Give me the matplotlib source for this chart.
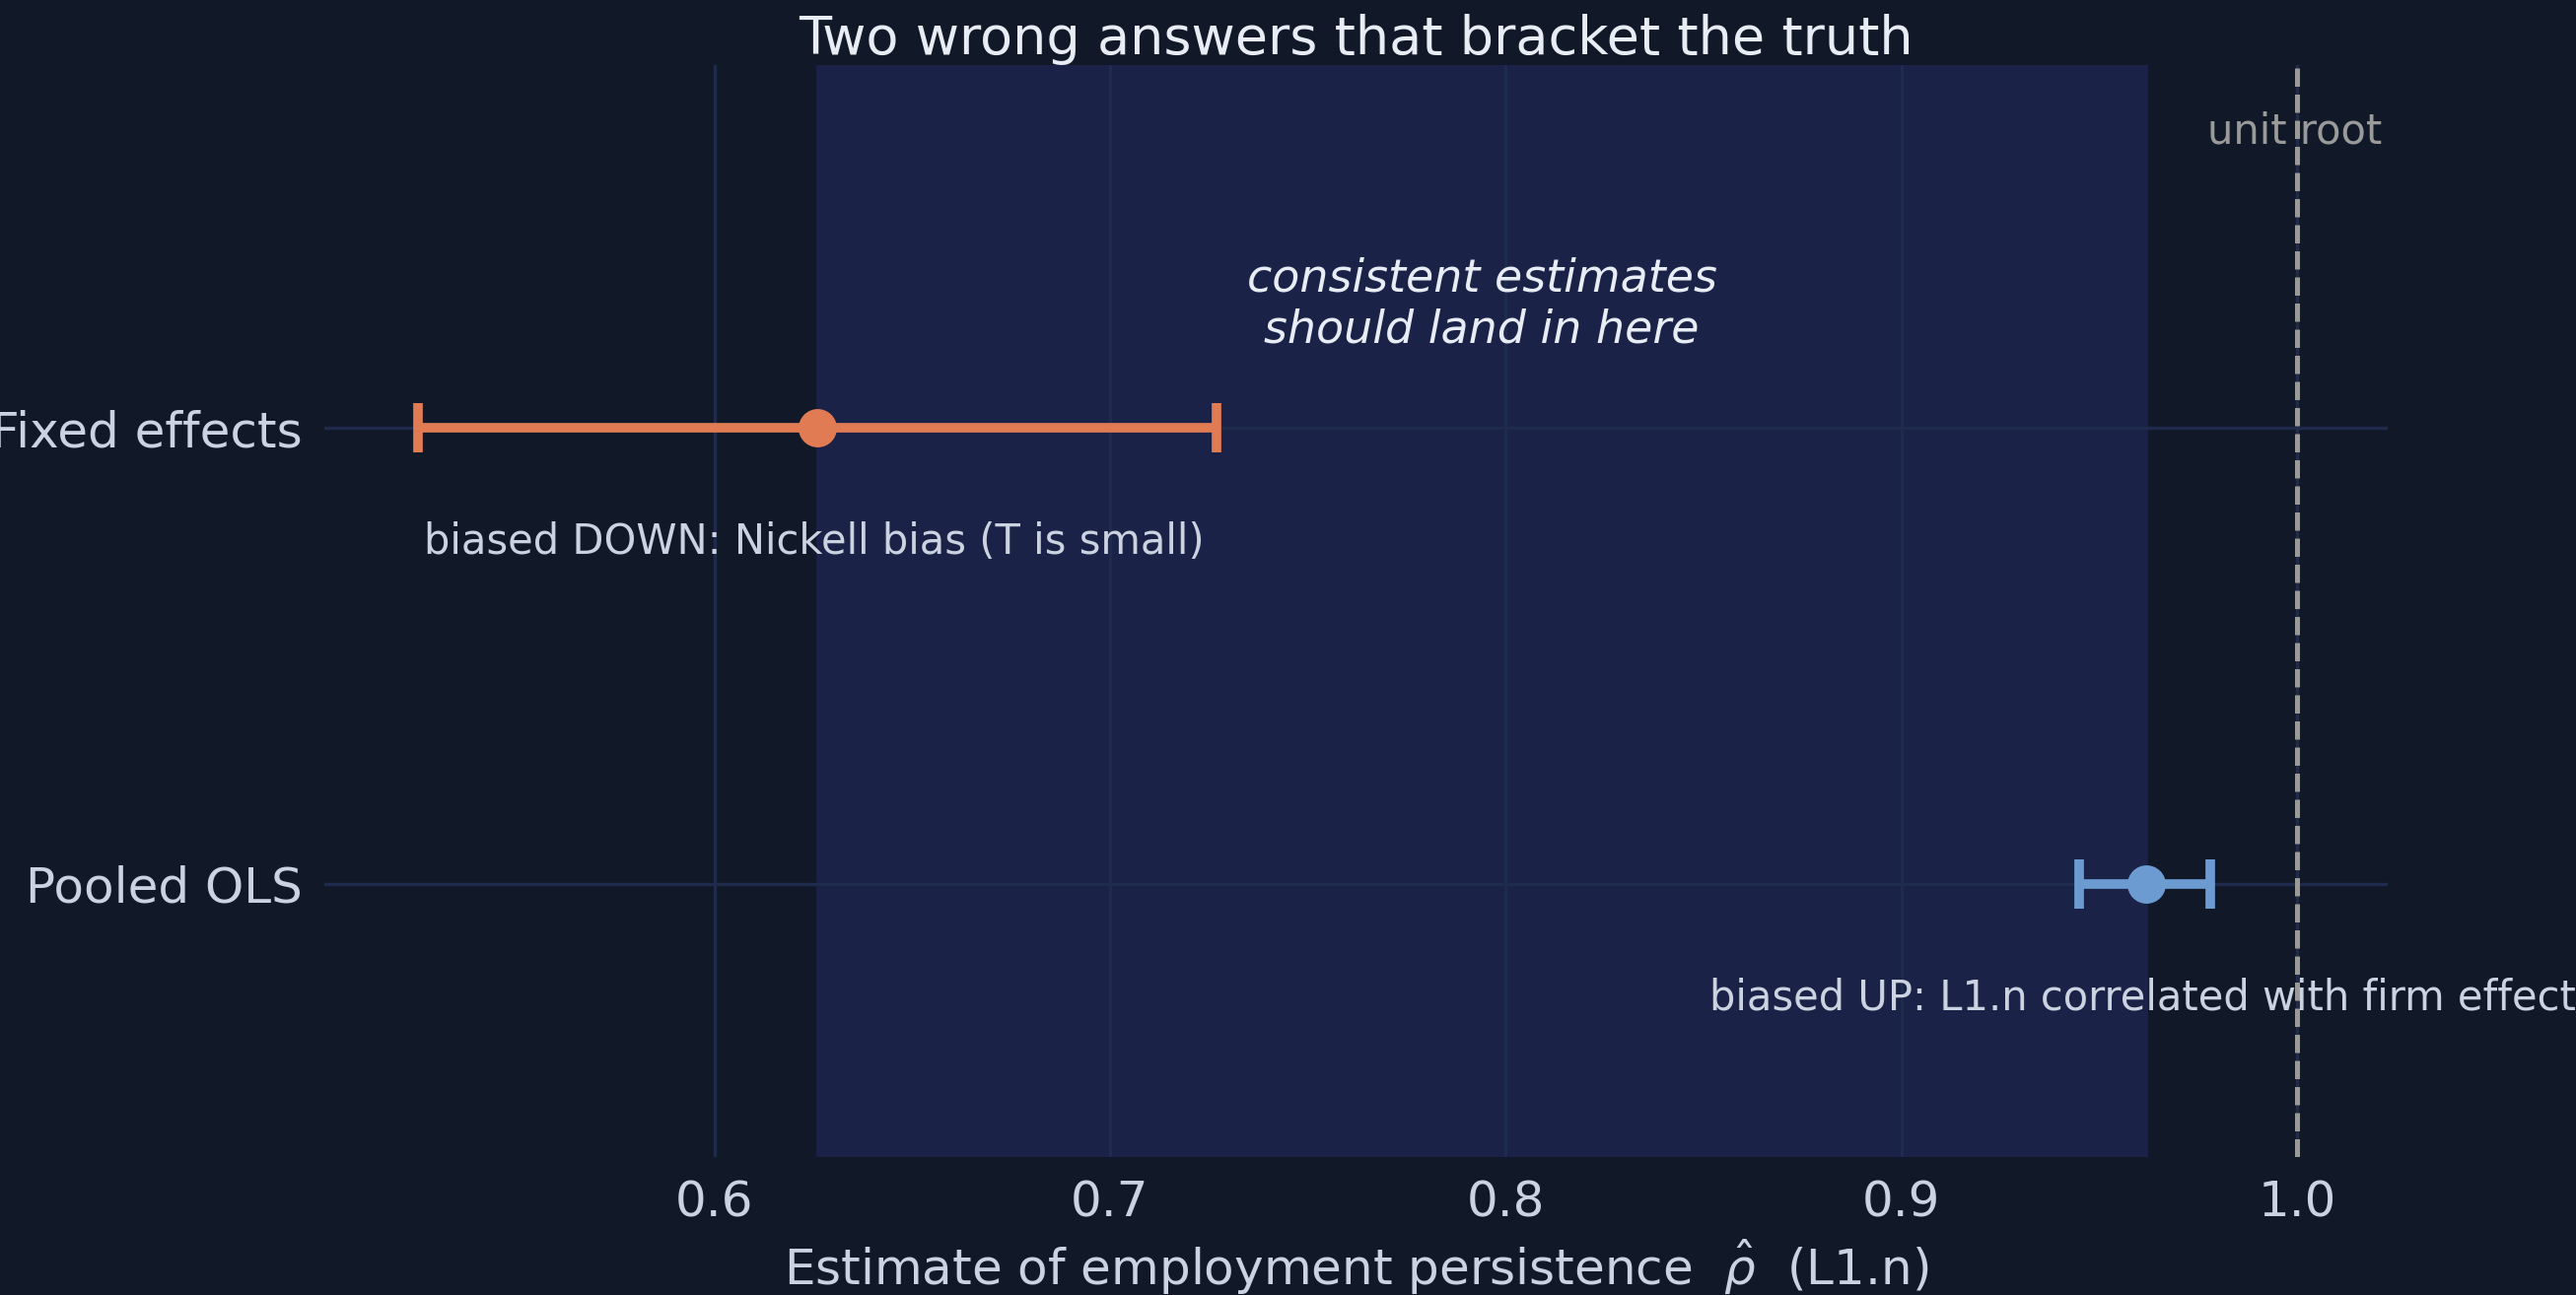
import matplotlib
matplotlib.use("Agg")
import matplotlib.pyplot as plt

models = ["Pooled OLS", "Fixed effects"]
estimates = [0.962, 0.626]
ci_low = [0.945, 0.525]
ci_high = [0.978, 0.727]
colors = ["#6b9bd1", "#e07b54"]
notes = ["biased UP: L1.n correlated with firm effect", "biased DOWN: Nickell bias (T is small)"]
xticks = [0.6, 0.7, 0.8, 0.9, 1.0]

bg = "#111827"
txt = "#cbd2e0"
fig = plt.figure(figsize=(13.065, 6.57), dpi=200, facecolor=bg)
ax = fig.add_axes([0.126, 0.1065, 0.801, 0.843], facecolor=bg)

ax.axvspan(estimates[1], estimates[0], color="#1a2247", zorder=0)
for x in xticks:
    ax.axvline(x, color="#1e2b4c", lw=1.2, zorder=0.5)
for y in range(len(models)):
    ax.axhline(y, color="#1e2b4c", lw=1.2, zorder=0.5)

for i, m in enumerate(models):
    ax.errorbar(estimates[i], i, xerr=[[estimates[i]-ci_low[i]], [ci_high[i]-estimates[i]]],
                fmt="o", color=colors[i], ms=13, elinewidth=3.5, capsize=9, capthick=3.5, zorder=3)

ax.axvline(1.0, color="#9a9a9a", ls="--", lw=1.8, zorder=2)
ax.text(0.9995, 1.65, "unit root", color="#9a9a9a", fontsize=15, ha="center", va="center")
ax.text(0.8515, -0.25, notes[0], color=txt, fontsize=15, ha="left", va="center")
ax.text(0.5265, 0.75, notes[1], color=txt, fontsize=15, ha="left", va="center")
ax.text(0.794, 1.27, "consistent estimates\nshould land in here", color="#e8ecf5", fontsize=16.5,
        style="italic", ha="center", va="center", linespacing=1.2)

ax.set_xlim(0.5015, 1.023)
ax.set_ylim(-0.6, 1.795)
ax.set_xticks(xticks)
ax.set_xticklabels([f"{x:.1f}" for x in xticks])
ax.set_yticks(range(len(models)))
ax.set_yticklabels(models)
ax.tick_params(colors=txt, labelsize=18, length=0, pad=8)
for s in ax.spines.values():
    s.set_visible(False)
ax.set_xlabel(r"Estimate of employment persistence  $\hat{\rho}$  (L1.n)", color=txt, fontsize=18, labelpad=4)
ax.set_title("Two wrong answers that bracket the truth", color="#e8ecf5", fontsize=19.5, pad=2)
fig.savefig("out.png", facecolor=bg)
